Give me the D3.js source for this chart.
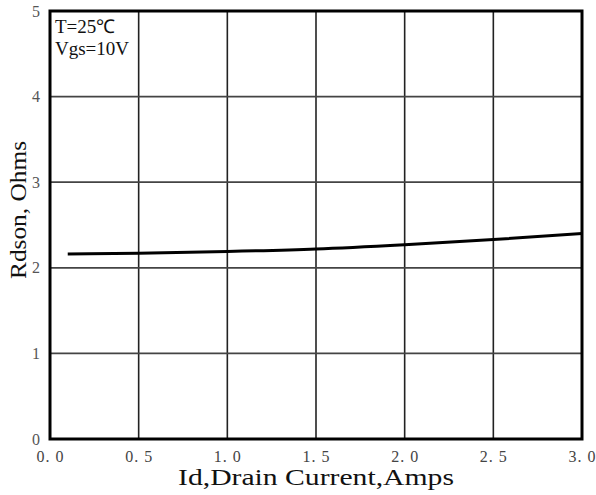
<!DOCTYPE html>
<html>
<head>
<meta charset="utf-8">
<script src="https://cdn.jsdelivr.net/npm/d3@7"></script>
<style>
  body { margin: 0; background: #fff; }
  svg { display: block; }
</style>
</head>
<body>
<svg id="canvas" width="596" height="495"></svg>
<script>
// Rdson vs drain current
const current = [0.1, 0.5, 1.0, 1.5, 2.0, 2.5, 3.0]
const rdson = [2.16, 2.17, 2.19, 2.22, 2.27, 2.33, 2.40]

const xTicks = [0, 0.5, 1.0, 1.5, 2.0, 2.5, 3.0]
const xTickLabels = ['0. 0', '0. 5', '1. 0', '1. 5', '2. 0', '2. 5', '3. 0']
const yTicks = [0, 1, 2, 3, 4, 5]

const width = 596
const height = 495
const margin = {left: 50, right: 14, top: 11, bottom: 56}

let canvas = d3.select('#canvas')

let xScale = d3.scaleLinear().domain([0, 3]).range([margin.left, width - margin.right])
let yScale = d3.scaleLinear().domain([0, 5]).range([height - margin.bottom, margin.top])

let drawGrid = () => {
    // vertical lines
    canvas.append('g')
        .selectAll('line')
        .data(xTicks.slice(1, -1))
        .enter()
        .append('line')
        .attr('x1', d => xScale(d))
        .attr('x2', d => xScale(d))
        .attr('y1', yScale(5))
        .attr('y2', yScale(0))
        .attr('stroke', '#222')
        .attr('stroke-width', 1.6)

    // horizontal lines
    canvas.append('g')
        .selectAll('line')
        .data(yTicks.slice(1, -1))
        .enter()
        .append('line')
        .attr('x1', xScale(0))
        .attr('x2', xScale(3))
        .attr('y1', d => yScale(d))
        .attr('y2', d => yScale(d))
        .attr('stroke', '#444')
        .attr('stroke-width', 1.8)
}

let drawAxes = () => {
    let xAxis = d3.axisBottom(xScale)
        .tickValues(xTicks)
        .tickSize(0)
        .tickPadding(12)
        .tickFormat((d, i) => xTickLabels[i])
    let gx = canvas.append('g')
        .attr('transform', 'translate(0,' + yScale(0) + ')')
        .call(xAxis)
    gx.select('.domain').remove()
    gx.selectAll('text')
        .attr('font-family', 'Liberation Serif, serif')
        .attr('font-size', 16)
        .attr('letter-spacing', 1)
        .attr('fill', '#444')

    let yAxis = d3.axisLeft(yScale)
        .tickValues(yTicks)
        .tickSize(0)
        .tickPadding(10)
        .tickFormat(d3.format('d'))
    let gy = canvas.append('g')
        .attr('transform', 'translate(' + xScale(0) + ',0)')
        .call(yAxis)
    gy.select('.domain').remove()
    gy.selectAll('text')
        .attr('font-family', 'Liberation Serif, serif')
        .attr('font-size', 16)
        .attr('fill', '#555')

    canvas.append('text')
        .attr('x', 316)
        .attr('y', 485)
        .attr('text-anchor', 'middle')
        .attr('font-family', 'Liberation Serif, serif')
        .attr('font-size', 23)
        .attr('textLength', 276)
        .attr('lengthAdjust', 'spacingAndGlyphs')
        .attr('fill', '#111')
        .text('Id,Drain Current,Amps')

    canvas.append('text')
        .attr('transform', 'translate(26,210) rotate(-90)')
        .attr('text-anchor', 'middle')
        .attr('font-family', 'Liberation Serif, serif')
        .attr('font-size', 23)
        .attr('textLength', 138)
        .attr('lengthAdjust', 'spacingAndGlyphs')
        .attr('fill', '#111')
        .text('Rdson, Ohms')
}

let drawCurve = () => {
    let line = d3.line()
        .x((d, i) => xScale(current[i]))
        .y(d => yScale(d))
        .curve(d3.curveMonotoneX)

    canvas.append('path')
        .datum(rdson)
        .attr('d', line)
        .attr('fill', 'none')
        .attr('stroke', '#000')
        .attr('stroke-width', 3)
}

let drawFrame = () => {
    canvas.append('rect')
        .attr('x', xScale(0))
        .attr('y', yScale(5))
        .attr('width', xScale(3) - xScale(0))
        .attr('height', yScale(0) - yScale(5))
        .attr('fill', 'none')
        .attr('stroke', '#000')
        .attr('stroke-width', 3)

    let note = canvas.append('text')
        .attr('font-family', 'Liberation Serif, serif')
        .attr('font-size', 19)
        .attr('fill', '#111')
    note.append('tspan').attr('x', 55).attr('y', 33).text('T=25℃')
    note.append('tspan').attr('x', 55).attr('y', 55).text('Vgs=10V')
}

drawGrid()
drawCurve()
drawFrame()
drawAxes()
</script>
</body>
</html>
